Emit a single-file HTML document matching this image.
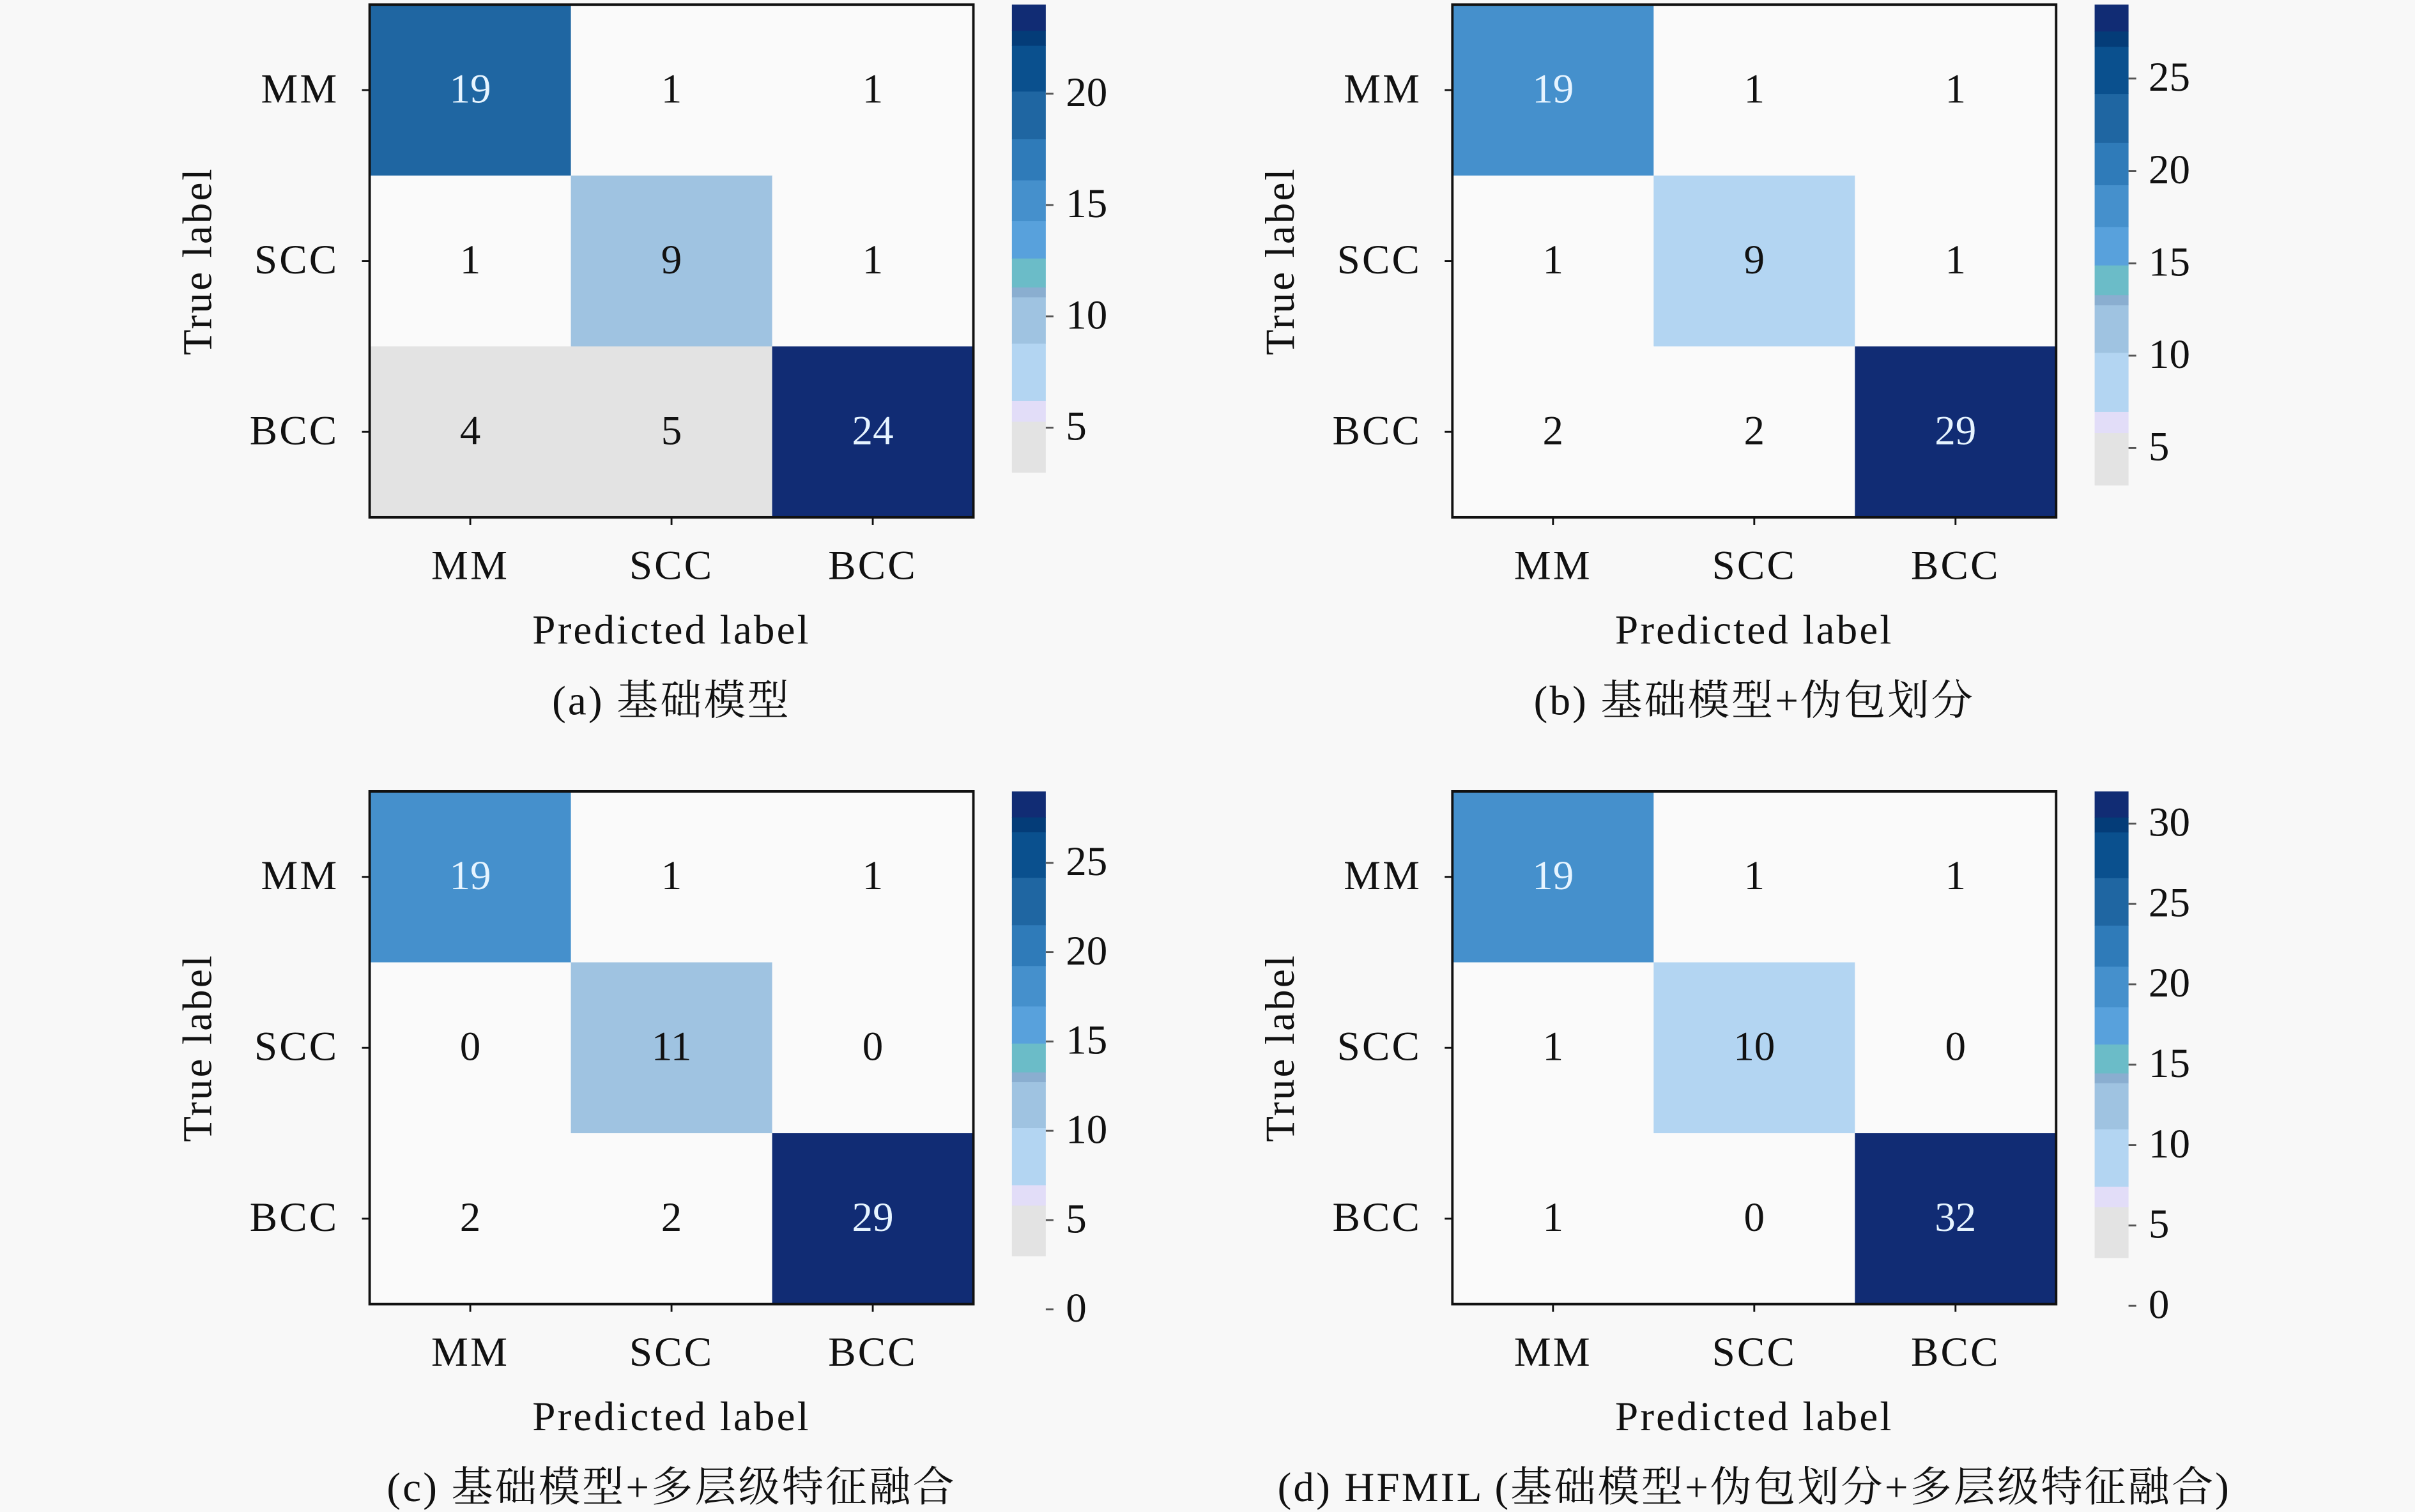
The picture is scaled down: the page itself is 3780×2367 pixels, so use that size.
<!DOCTYPE html>
<html><head><meta charset="utf-8"><style>
html,body{margin:0;padding:0;background:#f8f8f8;}
svg{display:block;}
text{font-family:"Liberation Serif","Noto Serif CJK SC",serif;fill:#111;}
.lbl{letter-spacing:1.3px;}
</style></head><body>
<svg id="fig" width="3780" height="2367" viewBox="0 0 1568 982" preserveAspectRatio="none" xmlns="http://www.w3.org/2000/svg">
<rect x="0" y="0" width="1568" height="982" fill="#f8f8f8"/>
</svg>
<script>
const classLabels = ["MM","SCC","BCC"];
const matrixA = [[19,1,1],[1,9,1],[4,5,24]];
const matrixB = [[19,1,1],[1,9,1],[2,2,29]];
const matrixC = [[19,1,1],[0,11,0],[2,2,29]];
const matrixD = [[19,1,1],[1,10,0],[1,0,32]];
const ticksA = [5,10,15,20];
const ticksB = [5,10,15,20,25];
const ticksC = [0,5,10,15,20,25];
const ticksD = [0,5,10,15,20,25,30];
const captions = ["(a) 基础模型","(b) 基础模型+伪包划分","(c) 基础模型+多层级特征融合","(d) HFMIL (基础模型+伪包划分+多层级特征融合)"];
const cmapStops = [0,0.109,0.153,0.276,0.375,0.396,0.458,0.538,0.625,0.713,0.815,0.913,0.945];
const cmapColors = ["#e3e3e3","#e2ddf8","#b3d5f2","#9fc3e1","#8aaed0","#6bbcc8","#58a1dc","#4590cc","#2f7bb9","#1f66a2","#0a508e","#043c78","#112c74"];
const NS="http://www.w3.org/2000/svg";
const svg=document.getElementById('fig');
function mk(tag,attrs,parent){const e=document.createElementNS(NS,tag);for(const k in attrs)e.setAttribute(k,attrs[k]);(parent||svg).appendChild(e);return e;}
function colorFor(frac){if(frac<0)return "#fafafa";let c=cmapColors[0];for(let i=0;i<cmapStops.length;i++){if(frac>=cmapStops[i])c=cmapColors[i];}return c;}
const panels=[
 {m:matrixA,t:ticksA,x:240,y:3,cap:captions[0],name:'a'},
 {m:matrixB,t:ticksB,x:943,y:3,cap:captions[1],name:'b'},
 {m:matrixC,t:ticksC,x:240,y:514,cap:captions[2],name:'c'},
 {m:matrixD,t:ticksD,x:943,y:514,cap:captions[3],name:'d'}];
const W=392,H=333,vmin=3,FS=27;
panels.forEach(p=>{
  const g=mk('g',{});
  
  
  const vmax=Math.max(...p.m.flat());
  const cw=W/3,ch=H/3;
  const frac=v=>(v-vmin)/(vmax-vmin);
  for(let r=0;r<3;r++)for(let c=0;c<3;c++){
    const v=p.m[r][c],f=frac(v);
    const rc=mk('rect',{x:p.x+c*cw,y:p.y+r*ch,width:cw+0.3,height:ch+0.3,fill:colorFor(f)},g);
    
    
    const t=mk('text',{x:p.x+(c+0.5)*cw,y:p.y+(r+0.5)*ch+8,'text-anchor':'middle','font-size':FS},g);
    t.style.fill=f>0.5?'#e6f4ff':'#111';
    t.textContent=v;
    
    
  }
  const fr=mk('rect',{x:p.x,y:p.y,width:W,height:H,fill:'none',stroke:'#111','stroke-width':1.6},g);
  
  
  classLabels.forEach((l,i)=>{
    const cy=p.y+(i+0.5)*ch, cx=p.x+(i+0.5)*cw;
    mk('line',{x1:p.x-5,x2:p.x,y1:cy,y2:cy,stroke:'#111','stroke-width':1.2},g);
    mk('line',{x1:cx,x2:cx,y1:p.y+H,y2:p.y+H+5,stroke:'#111','stroke-width':1.2},g);
    const yl=mk('text',{x:p.x-20,y:cy+8,'text-anchor':'end','font-size':FS,'class':'lbl'},g);
    yl.textContent=l;
    
    
    const xl=mk('text',{x:cx,y:p.y+H+40,'text-anchor':'middle','font-size':FS,'class':'lbl'},g);
    xl.textContent=l;
    
    
  });
  const xt=mk('text',{x:p.x+W/2,y:p.y+H+82,'text-anchor':'middle','font-size':FS,'class':'lbl'},g);
  xt.textContent='Predicted label';
  
  
  const yt=mk('text',{x:0,y:0,'text-anchor':'middle','font-size':FS,'class':'lbl',transform:`translate(${p.x-103},${p.y+H/2}) rotate(-90)`},g);
  yt.textContent='True label';
  
  
  const cp=mk('text',{x:p.x+W/2,y:p.y+H+128,'text-anchor':'middle','font-size':FS,'class':'lbl'},g);
  cp.textContent=p.cap;
  
  
  const bx=p.x+417,bw=22;
  const ppu = p.name==='a'?72.3/5:p.name==='b'?60/5:p.name==='c'?58/5:52.2/5;
  const yOf=v=>p.y+(vmax-v)*ppu;
  const cb=mk('g',{},g);
  
  
  for(let i=0;i<cmapStops.length;i++){
    const f0=cmapStops[i],f1=i+1<cmapStops.length?cmapStops[i+1]:1;
    const v0=vmin+f0*(vmax-vmin),v1=vmin+f1*(vmax-vmin);
    mk('rect',{x:bx,y:yOf(v1),width:bw,height:yOf(v0)-yOf(v1)+0.3,fill:cmapColors[i]},cb);
  }
  p.t.forEach(v=>{
    const y=yOf(v);
    mk('line',{x1:bx+bw,x2:bx+bw+5,y1:y,y2:y,stroke:'#555','stroke-width':1.2},cb);
    const tl=mk('text',{x:bx+bw+13,y:y+8,'font-size':FS},cb);
    tl.textContent=v;
    
    
  });
});
</script>
</body></html>
